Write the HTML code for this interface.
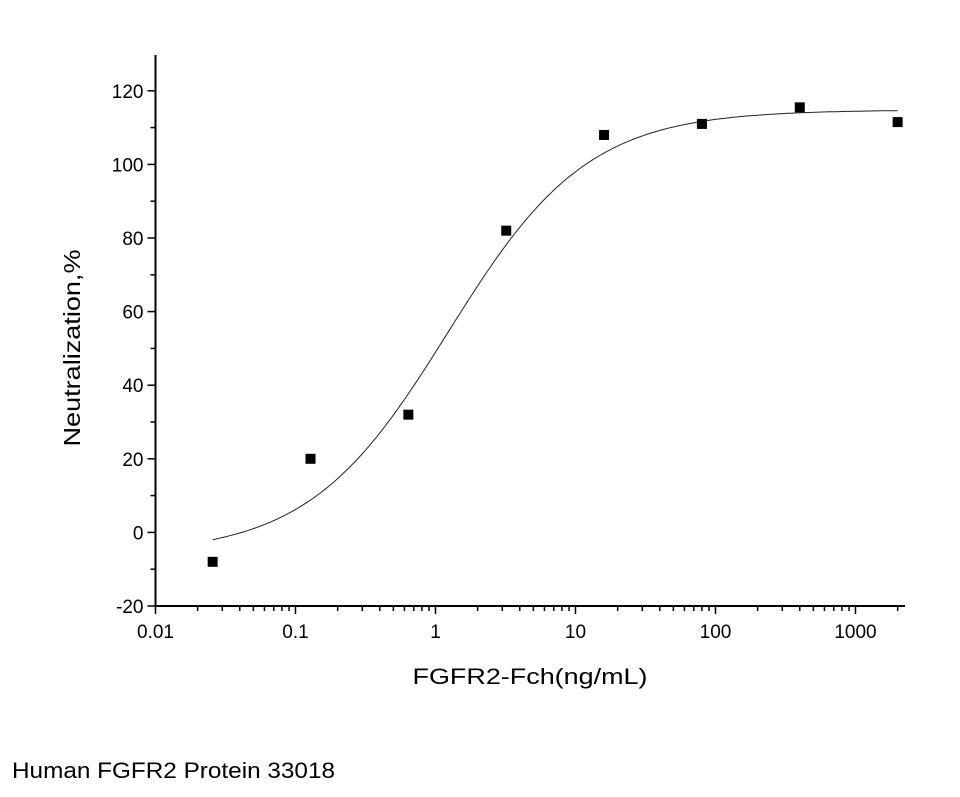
<!DOCTYPE html>
<html><head><meta charset="utf-8"><style>
body{margin:0;background:#fff;width:960px;height:797px;overflow:hidden;font-family:"Liberation Sans",Arial,sans-serif}
</style></head><body>
<svg id="chart" width="960" height="797" xmlns="http://www.w3.org/2000/svg" style="position:absolute;left:0;top:0">
<g id="axes"></g>
<path id="curve" fill="none" stroke="#222" stroke-width="1"/>
<g id="points"></g>
<text transform="translate(80,348) rotate(-90)" text-anchor="middle" font-size="23" textLength="197" lengthAdjust="spacingAndGlyphs">Neutralization,%</text>
<text x="530" y="684" text-anchor="middle" font-size="22" textLength="235" lengthAdjust="spacingAndGlyphs">FGFR2-Fch(ng/mL)</text>
<text x="12" y="778" font-size="22" textLength="323" lengthAdjust="spacingAndGlyphs">Human FGFR2 Protein 33018</text>
</svg>
<script>
const concentrations=[0.0256,0.128,0.64,3.2,16,80,400,2000];
const neutralization=[-8,20,32,82,108,111,115.5,111.5];
const xTickLabels=["0.01","0.1","1","10","100","1000"];
const yTickValues=[-20,0,20,40,60,80,100,120];
const fitParams=[-6,114.8,1.23,0.87];
const NS="http://www.w3.org/2000/svg";
const x0=155.5,xPerDec=140,y0=606,yPerUnit=3.68;
const xs=v=>x0+xPerDec*(Math.log10(v)+2);
const ys=v=>y0-(v+20)*yPerUnit;
function mk(t,a,p){const e=document.createElementNS(NS,t);for(const k in a)e.setAttribute(k,a[k]);p.appendChild(e);return e;}
const ax=document.getElementById('axes');
const yl=mk('line',{x1:x0,y1:55,x2:x0,y2:y0+1,stroke:'#000','stroke-width':2},ax);


const xl=mk('line',{x1:x0-1,y1:y0,x2:905,y2:y0,stroke:'#000','stroke-width':2},ax);


yTickValues.forEach(v=>{const y=ys(v);
 mk('line',{x1:x0-8,y1:y,x2:x0,y2:y,stroke:'#000','stroke-width':1.5},ax);
 if(v<120) mk('line',{x1:x0-5,y1:ys(v+10),x2:x0,y2:ys(v+10),stroke:'#000','stroke-width':1.5},ax);
 const t=mk('text',{x:x0-12,y:y+7,'text-anchor':'end','font-size':19},ax);t.textContent=v;
 
 });
xTickLabels.forEach((s,i)=>{const v=parseFloat(s),x=xs(v);
 mk('line',{x1:x,y1:y0,x2:x,y2:y0+8,stroke:'#000','stroke-width':1.5},ax);
 for(let m=2;m<=9;m++){const xm=xs(v*m);if(xm<=905)mk('line',{x1:xm,y1:y0,x2:xm,y2:y0+5,stroke:'#000','stroke-width':1.5},ax);}
 const t=mk('text',{x:x,y:y0+32,'text-anchor':'middle','font-size':19},ax);t.textContent=s;
 
 });
const [b,tp,ec,h]=fitParams;let d='';
for(let i=0;i<=200;i++){const lx=Math.log10(0.0256)+i/200*(Math.log10(2000)-Math.log10(0.0256));const c=Math.pow(10,lx);
 const y=b+(tp-b)/(1+Math.pow(ec/c,h));d+=(i?'L':'M')+xs(c).toFixed(1)+','+ys(y).toFixed(1);}
document.getElementById('curve').setAttribute('d',d);
const pg=document.getElementById('points');
concentrations.forEach((c,i)=>{const r=mk('rect',{x:xs(c)-5,y:ys(neutralization[i])-5,width:10,height:10,fill:'#000'},pg);
 
 });
</script>
</body></html>
